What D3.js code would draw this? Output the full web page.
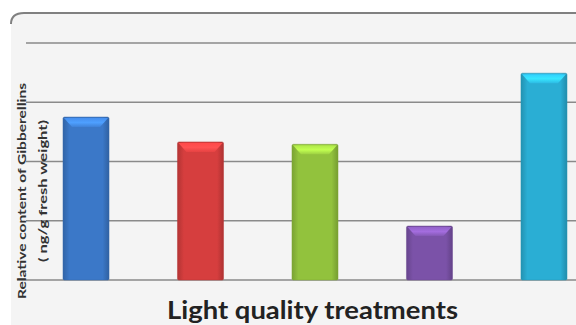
<!DOCTYPE html>
<html>
	<head>
		<style>
			body {
				margin: 0;
				background: #fff;
			}
			#chart {
				display: block;
			}
		</style>
	</head>
	<body>
		<svg id="chart" width="576" height="325"></svg>
		<script src="https://cdnjs.cloudflare.com/ajax/libs/d3/7.8.5/d3.min.js"></script>
		<script>
			// light treatments (labels are not shown on the chart)
			let categories = ['White', 'Red', 'Green', 'Purple', 'Blue'];
			let values = [2.75, 2.33, 2.29, 0.91, 3.49];
			let colors = ['#3b78c8', '#d63e3e', '#92c23d', '#7b52a8', '#2aaed4'];
			let gridTicks = [0, 1, 2, 3, 4];

			let svg = d3.select('#chart');

			// panel background with rounded top-left corner
			svg.append('rect')
				.attr('x', 11)
				.attr('y', 13)
				.attr('width', 620)
				.attr('height', 400)
				.attr('rx', 10)
				.attr('fill', '#f4f4f4');
			svg.append('path')
				.attr('d', 'M11,24 Q11,13 24,13 H576')
				.attr('fill', 'none')
				.attr('stroke', '#808080')
				.attr('stroke-width', 2);

			let x = d3.scaleBand()
				.domain(categories)
				.range([29, 601])
				.paddingInner(0.598)
				.paddingOuter(0.297);

			let y = d3.scaleLinear()
				.domain([0, 4])
				.range([280, 43]);

			// gridlines
			svg.append('g')
				.selectAll('line')
				.data(gridTicks)
				.enter()
				.append('line')
				.attr('x1', d => (d === 0 ? 17 : 26))
				.attr('x2', 576)
				.attr('y1', d => y(d))
				.attr('y2', d => y(d))
				.attr('stroke', '#8a8a8a')
				.attr('stroke-width', 1.6);

			// gradients for the bevelled bars
			let defs = svg.append('defs');
			colors.forEach((c, i) => {
				let g = defs.append('linearGradient')
					.attr('id', 'body' + i)
					.attr('x1', 0).attr('x2', 1).attr('y1', 0).attr('y2', 0);
				g.append('stop').attr('offset', 0).attr('stop-color', d3.color(c).darker(0.5));
				g.append('stop').attr('offset', 0.14).attr('stop-color', c);
				g.append('stop').attr('offset', 0.86).attr('stop-color', c);
				g.append('stop').attr('offset', 1).attr('stop-color', d3.color(c).darker(0.6));

				let t = defs.append('linearGradient')
					.attr('id', 'top' + i)
					.attr('x1', 0).attr('x2', 0).attr('y1', 0).attr('y2', 1);
				t.append('stop').attr('offset', 0).attr('stop-color', d3.color(c).brighter(0.5));
				t.append('stop').attr('offset', 0.5).attr('stop-color', d3.color(c).brighter(0.8));
				t.append('stop').attr('offset', 1).attr('stop-color', d3.color(c).brighter(0.2));
			});

			let bars = svg.append('g')
				.selectAll('g')
				.data(values)
				.enter()
				.append('g');

			let bw = x.bandwidth();

			bars.append('rect')
				.attr('x', (d, i) => x(categories[i]))
				.attr('y', d => y(d))
				.attr('width', bw)
				.attr('height', d => y(0) - y(d))
				.attr('rx', 1.5)
				.attr('fill', (d, i) => 'url(#body' + i + ')')
				.attr('stroke', (d, i) => d3.color(colors[i]).darker(0.4))
				.attr('stroke-opacity', 0.5)
				.attr('stroke-width', 1);

			// top bevel
			bars.append('path')
				.attr('d', (d, i) => {
					let x0 = x(categories[i]);
					let y0 = y(d);
					return 'M' + (x0 + 1) + ',' + (y0 + 1) +
						'H' + (x0 + bw - 1) +
						'L' + (x0 + bw - 9) + ',' + (y0 + 10) +
						'H' + (x0 + 9) + 'Z';
				})
				.attr('fill', (d, i) => 'url(#top' + i + ')');

			// axis titles
			let yTitle = svg.append('g')
				.attr('transform', 'translate(0,191) rotate(-90)');
			yTitle.append('text')
				.attr('x', 0)
				.attr('y', 26)
				.attr('text-anchor', 'middle')
				.attr('font-family', 'Lato, sans-serif')
				.attr('font-weight', 'bold')
				.attr('font-size', 11)
				.attr('fill', '#333')
				.attr('textLength', 216)
				.attr('lengthAdjust', 'spacingAndGlyphs')
				.text('Relative content of Gibberellins');
			yTitle.append('text')
				.attr('x', 0)
				.attr('y', 47)
				.attr('text-anchor', 'middle')
				.attr('font-family', 'Lato, sans-serif')
				.attr('font-weight', 'bold')
				.attr('font-size', 11)
				.attr('fill', '#333')
				.attr('textLength', 142)
				.attr('lengthAdjust', 'spacingAndGlyphs')
				.text('( ng/g fresh weight)');

			svg.append('text')
				.attr('x', 167)
				.attr('y', 319)
				.attr('font-family', 'Lato, sans-serif')
				.attr('font-weight', 'bold')
				.attr('font-size', 24)
				.attr('fill', '#222')
				.attr('textLength', 291)
				.attr('lengthAdjust', 'spacingAndGlyphs')
				.text('Light quality treatments');
		</script>
	</body>
</html>
